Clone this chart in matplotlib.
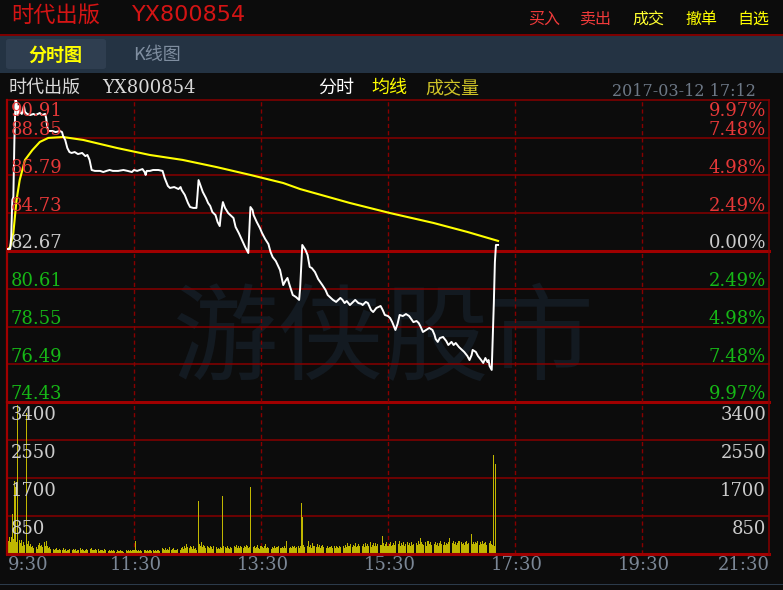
import matplotlib
matplotlib.use('Agg')
import matplotlib.pyplot as plt
from matplotlib.patches import Rectangle, FancyBboxPatch
from matplotlib import transforms

# ---- data ----
stock_name = '时代出版'
stock_code = 'YX800854'
stamp = '2017-03-12 17:12'

price_levels = [90.91, 88.85, 86.79, 84.73, 82.67, 80.61, 78.55, 76.49, 74.43]
pct_labels = ['9.97%', '7.48%', '4.98%', '2.49%', '0.00%', '2.49%', '4.98%', '7.48%', '9.97%']
vol_levels = [3400, 2550, 1700, 850]
time_ticks = [0, 120, 240, 360, 480, 600, 720]
time_labels = ['9:30', '11:30', '13:30', '15:30', '17:30', '19:30', '21:30']

# minutes after 9:30 / price
price_t = [0, 3, 4, 5, 6, 7, 8, 9, 10, 11,
           12, 14, 16, 17, 19, 22, 25, 27, 31, 33,
           36, 37, 38, 39, 43, 46, 50, 52, 53, 55,
           57, 59, 61, 64, 67, 71, 74, 76, 78, 80,
           83, 88, 91, 94, 97, 100, 105, 110, 114, 118,
           120, 123, 128, 130, 131, 132, 135, 138, 143, 147,
           149, 152, 154, 158, 162, 164, 165, 168, 171, 173,
           176, 179, 180, 181, 182, 185, 188, 190, 192, 194,
           197, 199, 201, 202, 204, 206, 209, 211, 214, 216,
           219, 222, 225, 228, 229, 230, 232, 233, 236, 239,
           241, 244, 247, 249, 251, 254, 258, 260, 261, 263,
           265, 267, 270, 273, 276, 277, 279, 282, 284, 286,
           288, 291, 294, 298, 301, 303, 305, 308, 311, 313,
           315, 317, 319, 321, 324, 327, 329, 332, 335, 336,
           339, 341, 344, 346, 349, 353, 355, 357, 360, 362,
           364, 367, 369, 371, 374, 377, 380, 382, 384, 387,
           389, 391, 393, 396, 399, 402, 404, 405, 407, 409,
           412, 415, 417, 420, 422, 424, 427, 430, 432, 435,
           437, 439, 440, 443, 445, 448, 450, 452, 454, 455,
           456, 458, 459, 460, 461, 462, 464]
price_v = [82.78, 82.78, 83.49, 85.45, 85.62, 88.73, 90.91, 90.80, 90.09, 90.58,
           90.26, 90.15, 90.58, 90.26, 90.15, 90.09, 90.15, 90.09, 90.20, 90.09,
           90.15, 89.93, 89.44, 89.22, 89.22, 89.16, 89.22, 89.16, 88.95, 88.73,
           88.29, 88.07, 88.02, 88.07, 87.96, 88.02, 87.85, 87.91, 87.64, 87.09,
           87.04, 87.04, 86.98, 87.04, 87.09, 87.04, 87.04, 87.09, 87.04, 86.98,
           87.09, 87.04, 87.14, 86.98, 86.82, 87.04, 87.04, 87.09, 87.09, 87.04,
           86.65, 86.22, 86.11, 86.16, 86.05, 86.16, 86.00, 85.73, 85.29, 85.07,
           85.02, 85.02, 85.73, 86.54, 86.38, 85.89, 85.56, 85.29, 85.13, 84.80,
           84.63, 84.25, 84.03, 84.63, 85.34, 85.02, 84.74, 84.63, 84.47, 83.98,
           83.65, 83.27, 82.89, 82.56, 83.82, 85.07, 84.91, 84.63, 84.25, 83.92,
           83.65, 83.32, 83.05, 82.62, 82.34, 82.12, 81.63, 81.09, 80.81, 81.03,
           81.20, 80.81, 80.27, 80.16, 80.00, 80.65, 83.00, 82.73, 82.45, 81.80,
           81.74, 81.52, 81.14, 80.81, 80.54, 80.27, 80.16, 80.00, 79.89, 80.00,
           80.11, 80.00, 79.83, 79.94, 79.72, 79.89, 80.00, 79.83, 79.78, 79.72,
           79.89, 79.83, 79.45, 79.34, 79.56, 79.67, 79.45, 79.18, 79.12, 79.01,
           78.79, 78.36, 78.69, 79.18, 79.12, 79.23, 79.12, 78.96, 78.79, 78.85,
           78.74, 78.52, 78.25, 78.36, 78.47, 78.36, 78.09, 77.87, 77.71, 77.92,
           77.98, 77.76, 77.54, 77.71, 77.54, 77.65, 77.43, 77.27, 77.16, 76.94,
           76.72, 76.99, 77.27, 77.16, 76.94, 76.72, 76.56, 76.83, 76.61, 76.72,
           76.39, 76.18, 78.03, 79.83, 82.07, 83.00, 83.00]

# average price line
avg_t = [0, 3, 6, 9, 12, 17, 24, 31, 39, 53, 72, 104, 135, 166, 198, 230,
         261, 277, 324, 362, 403, 435, 464]
avg_v = [82.72, 82.89, 83.65, 85.45, 86.54, 87.64, 88.18, 88.62, 88.84, 88.89,
         88.73, 88.29, 87.91, 87.64, 87.25, 86.82, 86.38, 86.05, 85.29, 84.74,
         84.20, 83.71, 83.22]

# volume per minute
vol = [420, 300, 380, 260, 380, 890, 340, 1630, 1500, 260, 3330, 0, 310, 240, 310, 180, 260, 200, 3150, 230,
       280, 190, 220, 150, 170, 140, 0, 0, 160, 120, 200, 250, 170, 210, 150, 260, 180, 300, 190, 140,
       160, 110, 0, 0, 120, 90, 110, 140, 100, 80, 120, 100, 90, 130, 80, 110, 70, 100, 90, 110,
       0, 0, 90, 110, 80, 120, 70, 100, 90, 130, 80, 110, 90, 70, 100, 120, 80, 0, 0, 110,
       130, 90, 100, 80, 120, 90, 110, 70, 100, 80, 90, 60, 110, 80, 0, 0, 70, 90, 60, 80,
       60, 90, 70, 50, 80, 60, 70, 90, 60, 70, 50, 0, 0, 80, 70, 90, 60, 80, 70, 90,
       100, 280, 80, 70, 90, 60, 80, 70, 0, 0, 90, 80, 70, 100, 60, 80, 90, 70, 80, 60,
       90, 70, 80, 100, 60, 0, 0, 140, 110, 90, 130, 80, 120, 100, 150, 90, 110, 130, 80, 100,
       90, 120, 0, 0, 100, 130, 150, 110, 180, 140, 220, 160, 130, 190, 150, 110, 170, 120, 140, 100,
       0, 1185, 230, 180, 260, 150, 200, 170, 140, 190, 160, 130, 180, 150, 120, 170, 0, 0, 150, 110,
       140, 120, 160, 130, 1300, 190, 150, 130, 170, 140, 120, 160, 130, 0, 0, 180, 150, 200, 140, 170,
       130, 190, 160, 140, 180, 150, 200, 170, 130, 160, 1500, 0, 0, 150, 180, 130, 160, 200, 140, 120,
       170, 150, 130, 180, 220, 140, 160, 130, 0, 0, 120, 150, 140, 170, 130, 160, 150, 180, 140, 130,
       160, 140, 170, 130, 300, 0, 0, 140, 160, 130, 170, 150, 180, 140, 160, 190, 130, 170, 1140, 830,
       210, 150, 0, 0, 180, 280, 160, 200, 140, 250, 170, 190, 150, 230, 160, 200, 140, 180, 210, 160,
       0, 0, 140, 170, 130, 160, 150, 180, 140, 170, 130, 190, 160, 140, 180, 150, 0, 0, 170, 130,
       210, 160, 250, 190, 170, 230, 150, 200, 180, 240, 160, 190, 220, 170, 0, 0, 180, 230, 160, 250,
       170, 220, 190, 260, 160, 200, 240, 180, 250, 170, 230, 0, 0, 200, 200, 400, 240, 170, 220, 260,
       190, 230, 270, 180, 210, 250, 200, 290, 0, 0, 220, 280, 190, 240, 210, 260, 180, 230, 270, 200,
       240, 190, 260, 210, 230, 0, 0, 250, 200, 280, 220, 350, 260, 230, 210, 270, 190, 280, 300, 220,
       260, 200, 0, 0, 230, 270, 210, 250, 190, 240, 280, 220, 200, 260, 210, 250, 230, 270, 360, 0,
       0, 250, 290, 220, 260, 200, 240, 280, 300, 270, 230, 250, 200, 260, 290, 220, 250, 0, 0, 450,
       230, 260, 220, 270, 240, 290, 210, 260, 230, 280, 220, 250, 270, 210, 0, 0, 240, 280, 220, 200,
       2215, 180, 2010]

# ---- styling ----
W, H = 783, 590
BG = '#0c0c0c'
GRID = '#870000'
GRID_THICK = '#a00000'
RED = '#e63838'
GREEN = '#16b816'
GRAY = '#cccccc'
CJK = ['Noto Sans CJK SC', 'DejaVu Sans']
CJK_SERIF = ['DejaVu Serif', 'Noto Sans CJK SC']
NUM = 'DejaVu Serif'


def fx(x):
    return x / W


def fy(y):
    return 1 - y / H


fig = plt.figure(figsize=(W / 100, H / 100), dpi=100, facecolor=BG)

# header bar
fig.text(fx(11), fy(15), stock_name, color='#d41414', fontsize=16, family=CJK, va='center')
fig.text(fx(132), fy(15), stock_code, color='#d41414', fontsize=16, family='DejaVu Sans', va='center')
buttons = ['买入', '卖出', '成交', '撤单', '自选']
button_x = [544, 596, 648, 701, 753]
button_c = ['#f03a3a', '#f03a3a', '#ffff30', '#ffff00', '#ffff00']
for b, bx, bc in zip(buttons, button_x, button_c):
    fig.text(fx(bx), fy(19), b, color=bc, fontsize=11.5, family=CJK, ha='center', va='center')
fig.add_artist(Rectangle((0, fy(36)), 1, 2.5 / H, transform=fig.transFigure,
                         facecolor='#7c0000', edgecolor='none'))

# tab bar
fig.add_artist(Rectangle((0, fy(73)), 1, 37 / H, transform=fig.transFigure,
                         facecolor='#243343', edgecolor='none'))
fig.add_artist(FancyBboxPatch((fx(6), fy(69)), 100 / W, 30 / H, transform=fig.transFigure,
                              boxstyle='round,pad=0,rounding_size=0.004',
                              facecolor='#2f3e50', edgecolor='none'))
fig.text(fx(55), fy(55), '分时图', color='#ffff00', fontsize=13, family=CJK,
         weight='bold', ha='center', va='center')
fig.text(fx(157), fy(55), 'K线图', color='#7f8ea0', fontsize=13, family=CJK,
         ha='center', va='center')

# info row
fig.text(fx(9), fy(88), stock_name, color='#d8d8d8', fontsize=13, family=CJK, va='center')
fig.text(fx(102), fy(88), stock_code, color='#d8d8d8', fontsize=13, family=NUM, va='center')
fig.text(fx(318), fy(88), '分时', color='#ffffff', fontsize=13, family=CJK, va='center')
fig.text(fx(371), fy(88), '均线', color='#ffff00', fontsize=13, family=CJK, va='center')
fig.text(fx(425), fy(88), '成交量', color='#cfc428', fontsize=13, family=CJK, va='center')
fig.text(fx(756), fy(92), stamp, color='#6d7886', fontsize=11.5, family=NUM,
         ha='right', va='center')

# ---- price panel ----
ax_p = fig.add_axes([fx(7), fy(402), 762 / W, 302 / H])
ax_p.set_xlim(0, 720)
ax_p.set_ylim(price_levels[-1], price_levels[0])
ax_p.axis('off')

ax_p.text(0.495, 0.2, '游侠股市', transform=ax_p.transAxes, color='#131a21', fontsize=76,
          family=CJK, ha='center', va='center', zorder=0)

for i, lv in enumerate(price_levels):
    thick = lv in (82.67, 74.43)
    ax_p.axhline(lv, color=GRID_THICK if thick else GRID, lw=2.2 if thick else 1.1,
                 clip_on=False, zorder=1)

ax_p.plot(avg_t, avg_v, color='#ffff00', lw=1.5, zorder=3)
ax_p.plot(price_t, price_v, color='#ffffff', lw=1.4, zorder=4)

lab_tr = transforms.blended_transform_factory(ax_p.transAxes, ax_p.transData)
for i, (lv, pl) in enumerate(zip(price_levels, pct_labels)):
    if i < 4:
        c = RED
    elif i == 4:
        c = GRAY
    else:
        c = GREEN
    dy = -16 if i == 0 else 2.5
    tl = transforms.offset_copy(lab_tr, fig=fig, x=4, y=dy, units='dots')
    tr = transforms.offset_copy(lab_tr, fig=fig, x=-3, y=dy, units='dots')
    ax_p.text(0, lv, f'{lv:.2f}', transform=tl, color=c, fontsize=13, family=NUM,
              va='baseline', ha='left', zorder=5)
    ax_p.text(1, lv, pl, transform=tr, color=c, fontsize=13, family=NUM,
              va='baseline', ha='right', zorder=5)

# ---- volume panel ----
ax_v = fig.add_axes([fx(7), fy(554), 762 / W, 152 / H])
ax_v.set_xlim(0, 720)
ax_v.set_ylim(0, vol_levels[0])
ax_v.axis('off')

ax_v.bar(range(len(vol)), vol, width=0.95, color='#c0b700', linewidth=0, zorder=2)

for lv in vol_levels[1:]:
    ax_v.axhline(lv, color=GRID, lw=1.1, zorder=1)
ax_v.axhline(0, color=GRID_THICK, lw=2.2, clip_on=False, zorder=3)

vtr = transforms.blended_transform_factory(ax_v.transAxes, ax_v.transData)
for lv in vol_levels:
    tl = transforms.offset_copy(vtr, fig=fig, x=4, y=-18, units='dots')
    tr = transforms.offset_copy(vtr, fig=fig, x=-3, y=-18, units='dots')
    ax_v.text(0, lv, str(lv), transform=tl, color=GRAY, fontsize=13, family=NUM,
              va='baseline', ha='left', zorder=5)
    ax_v.text(1, lv, str(lv), transform=tr, color=GRAY, fontsize=13, family=NUM,
              va='baseline', ha='right', zorder=5)

# vertical grid and borders
for ax in (ax_p, ax_v):
    for t in time_ticks[1:-1]:
        ax.axvline(t, color=GRID, lw=1.0, ls=(0, (3, 2.2)), zorder=1)
    ax.axvline(0, color=GRID_THICK, lw=1.6, clip_on=False, zorder=3)
    ax.axvline(720, color=GRID, lw=1.1, clip_on=False, zorder=3)

# time labels
ttr = transforms.blended_transform_factory(ax_v.transData, fig.transFigure)
for i, (t, tl) in enumerate(zip(time_ticks, time_labels)):
    if i == 0:
        ha, dx = 'left', 1
    elif i == len(time_ticks) - 1:
        ha, dx = 'right', 1
    else:
        ha, dx = 'center', 2
    tt = transforms.offset_copy(ttr, fig=fig, x=dx, y=0, units='dots')
    ax_v.text(t, fy(570), tl, transform=tt, color='#7b8796', fontsize=13, family=NUM,
              ha=ha, va='baseline', clip_on=False)

fig.add_artist(Rectangle((0, fy(585)), 1, 1.2 / H, transform=fig.transFigure,
                         facecolor='#2c3b4b', edgecolor='none'))

fig.savefig('out.png', dpi=100, facecolor=BG)
